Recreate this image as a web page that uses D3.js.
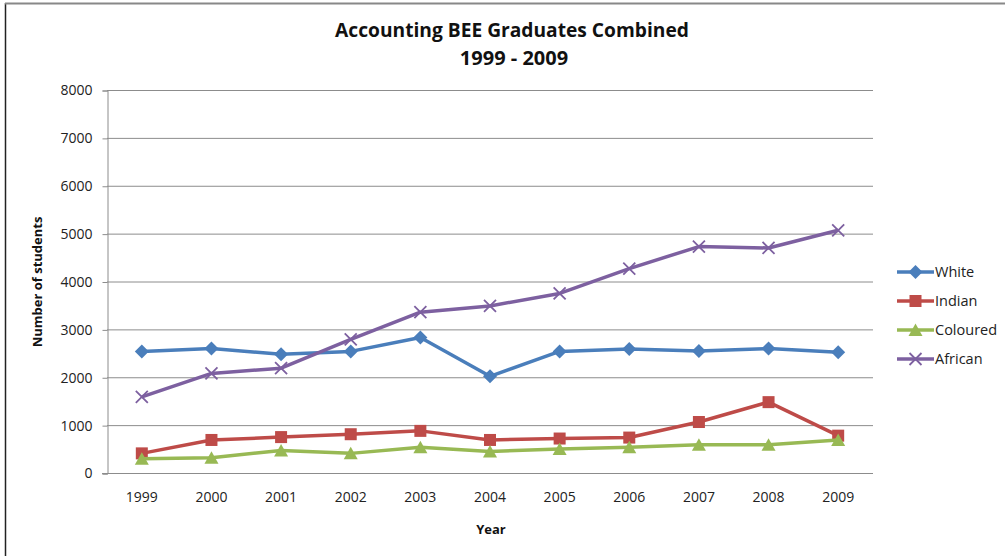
<!DOCTYPE html>
<html>
<head>
<meta charset="utf-8">
<script src="https://cdn.jsdelivr.net/npm/d3@7/dist/d3.min.js"></script>
<style>
  html, body { margin: 0; padding: 0; background: #fff; }
  svg { display: block; font-family: "Open Sans", "Liberation Sans", sans-serif; }
</style>
</head>
<body>
<svg id="chart" width="1005" height="556"></svg>
<script>
// Graduates per year, by population group
const years = ["1999","2000","2001","2002","2003","2004","2005","2006","2007","2008","2009"];
const white    = [2540, 2600, 2480, 2540, 2830, 2020, 2540, 2590, 2550, 2600, 2520];
const indian   = [410, 690, 750, 810, 880, 690, 720, 740, 1065, 1480, 780];
const coloured = [300, 320, 470, 410, 540, 450, 500, 540, 590, 590, 690];
const african  = [1590, 2080, 2190, 2790, 3360, 3490, 3750, 4270, 4730, 4700, 5070];
const yTicks = [0, 1000, 2000, 3000, 4000, 5000, 6000, 7000, 8000];
const seriesNames = ["White", "Indian", "Coloured", "African"];
const seriesColors = ["#4a7ebb", "#be4b48", "#98b954", "#7d60a0"];
const seriesShapes = ["diamond", "square", "triangle", "cross"];

const series = [white, indian, coloured, african].map((vals, i) => ({
  name: seriesNames[i], color: seriesColors[i], shape: seriesShapes[i],
  values: vals.map((v, j) => ({ year: years[j], value: v }))
}));

const svg = d3.select("#chart");
const plotLeft = 107, plotRight = 873, plotTop = 90, plotBottom = 473;

// outer frame
svg.append("line").attr("x1", 5.5).attr("x2", 5.5).attr("y1", 3).attr("y2", 556)
  .attr("stroke", "#222").attr("stroke-width", 1.5);
svg.append("line").attr("x1", 5).attr("x2", 1005).attr("y1", 3.5).attr("y2", 3.5)
  .attr("stroke", "#888").attr("stroke-width", 2);

const x = d3.scaleBand().domain(years).range([plotLeft, plotRight]);
const y = d3.scaleLinear().domain([0, 8000]).range([plotBottom, plotTop]);

// gridlines
svg.append("g").selectAll("line").data(yTicks.filter(t => t > 0)).join("line")
  .attr("x1", plotLeft).attr("x2", plotRight)
  .attr("y1", d => y(d) + 0.5).attr("y2", d => y(d) + 0.5)
  .attr("stroke", "#8c8c8c").attr("stroke-width", 1);

// y axis
const yAxis = svg.append("g").attr("transform", `translate(${plotLeft + 0.5},0.5)`)
  .call(d3.axisLeft(y).tickValues(yTicks).tickSize(5).tickPadding(10).tickFormat(d3.format("d")));
yAxis.select(".domain").attr("stroke", "#8c8c8c");
yAxis.selectAll(".tick line").attr("stroke", "#8c8c8c");
yAxis.selectAll("text").attr("font-size", 14).attr("fill", "#222")
  .attr("font-family", "'Open Sans', sans-serif");

// x axis
const xAxis = svg.append("g").attr("transform", `translate(0,${plotBottom + 0.5})`)
  .call(d3.axisBottom(x).tickSize(0).tickPadding(19));
xAxis.select(".domain").attr("stroke", "#8c8c8c").attr("d", `M${plotLeft - 5},0H${plotRight}`);
xAxis.selectAll("text").attr("font-size", 14).attr("fill", "#222")
  .attr("font-family", "'Open Sans', sans-serif");

const cx = d => x(d.year) + x.bandwidth() / 2;

function drawMarker(g, shape, color) {
  if (shape === "diamond") {
    g.append("path").attr("d", "M0,-7L7,0L0,7L-7,0Z").attr("fill", color);
  } else if (shape === "square") {
    g.append("rect").attr("x", -6).attr("y", -6).attr("width", 12).attr("height", 12).attr("fill", color);
  } else if (shape === "triangle") {
    g.append("path").attr("d", "M0,-6.5L7,6L-7,6Z").attr("fill", color);
  } else {
    g.append("path").attr("d", "M-6,-6L6,6M-6,6L6,-6").attr("stroke", color).attr("stroke-width", 1.8);
  }
}

const line = d3.line().x(cx).y(d => y(d.value));

// lines and markers
series.forEach(s => {
  const g = svg.append("g");
  g.append("path").datum(s.values).attr("d", line)
    .attr("fill", "none").attr("stroke", s.color).attr("stroke-width", 3.5)
    .attr("stroke-linejoin", "round");
  g.selectAll("g").data(s.values).join("g")
    .attr("transform", d => `translate(${cx(d)},${y(d.value)})`)
    .each(function() { drawMarker(d3.select(this), s.shape, s.color); });
});

// legend
const legend = svg.append("g").attr("transform", "translate(897,272)");
series.forEach((s, i) => {
  const g = legend.append("g").attr("transform", `translate(0,${i * 29})`);
  g.append("line").attr("x1", 0).attr("x2", 37).attr("y1", 0).attr("y2", 0)
    .attr("stroke", s.color).attr("stroke-width", 3.5);
  const m = g.append("g").attr("transform", "translate(18.5,0)");
  drawMarker(m, s.shape, s.color);
  g.append("text").attr("x", 38).attr("y", 0).attr("dy", "0.35em")
    .attr("font-size", 14.5).attr("fill", "#222").text(s.name);
});

// titles
svg.append("text").attr("x", 512).attr("y", 37).attr("text-anchor", "middle")
  .attr("font-size", 19.2).attr("font-weight", "bold").attr("fill", "#111")
  .text("Accounting BEE Graduates Combined");
svg.append("text").attr("x", 514).attr("y", 65).attr("text-anchor", "middle")
  .attr("font-size", 20).attr("font-weight", "bold").attr("fill", "#111")
  .text("1999 - 2009");

svg.append("text").attr("x", 491).attr("y", 534).attr("text-anchor", "middle")
  .attr("font-size", 13).attr("font-weight", "bold").attr("fill", "#111").text("Year");
svg.append("text").attr("transform", "translate(42,282) rotate(-90)").attr("text-anchor", "middle")
  .attr("font-size", 13).attr("font-weight", "bold").attr("fill", "#111").text("Number of students");
</script>
</body>
</html>
